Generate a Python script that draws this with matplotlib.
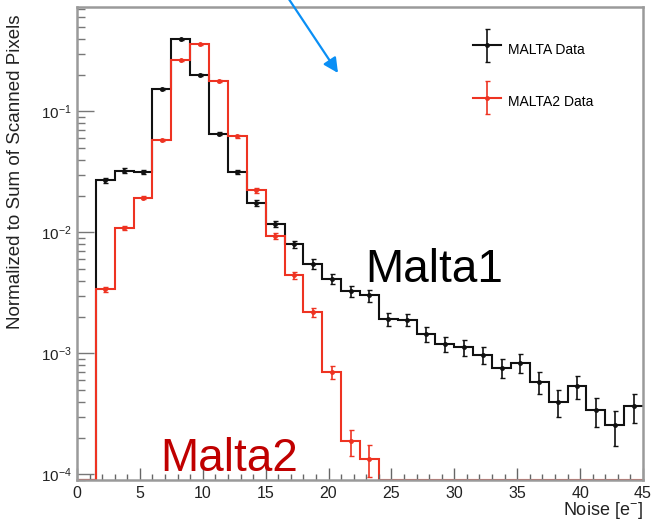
import numpy as np
import matplotlib
matplotlib.use("Agg")
import matplotlib.pyplot as plt
from matplotlib.lines import Line2D
from matplotlib.container import ErrorbarContainer
from matplotlib.legend_handler import HandlerErrorbar
from matplotlib.ticker import LogLocator, MultipleLocator

plt.rcParams['font.family'] = ['Liberation Sans', 'DejaVu Sans']
plt.rcParams['mathtext.default'] = 'regular'

# bin edges of the noise histogram [e-]
edges = np.arange(0, 45.01, 1.5)

# normalized counts per bin
malta1 = [0, 0.0269, 0.0325, 0.0315, 0.154, 0.394, 0.199, 0.0654, 0.0318, 0.0175,
          0.0118, 0.00796, 0.00551, 0.00414, 0.00327, 0.00302, 0.00193, 0.00190,
          0.00146, 0.00120, 0.00113, 0.00098, 0.000762, 0.000838, 0.000583,
          0.000396, 0.000537, 0.000338, 0.000255, 0.000366]
malta2 = [0, 0.00338, 0.01086, 0.0194, 0.058, 0.264, 0.358, 0.180, 0.0625, 0.0223,
          0.0094, 0.00444, 0.00219, 0.0007, 0.000188, 0.000135, 0, 0, 0, 0,
          0, 0, 0, 0, 0, 0, 0, 0, 0, 0]

# relative errors per bin
malta1_relerr = [0, .04, .04, .04, .02, .015, .02, .03, .04, .05, .06, .07, .09, .10,
                 .11, .11, .12, .12, .14, .15, .15, .16, .18, .17, .20, .25, .22, .27,
                 .32, .27]
malta2_relerr = [0, .05, .04, .03, .02, .015, .015, .02, .03, .05, .06, .07, .08, .12,
                 .25, .30, 0, 0, 0, 0, 0, 0, 0, 0, 0, 0, 0, 0, 0, 0]

ymin, ymax = 9e-5, 0.73
black = '#111111'
red = '#ee3322'
frame = '#9a9a9a'

fig = plt.figure(figsize=(6.54, 5.22), dpi=100)
ax = fig.add_axes([77/654, 1 - 480/522, (643 - 77)/654, (480 - 7)/522])

centers = 0.5 * (edges[1:] + edges[:-1])
handles = []
for vals, rel, col, lab in [(malta1, malta1_relerr, black, 'MALTA Data'),
                            (malta2, malta2_relerr, red, 'MALTA2 Data')]:
    v = np.array(vals)
    e = v * np.array(rel)
    ax.stairs(np.maximum(v, ymin), edges, baseline=None, color=col, lw=1.5)
    m = v > 0
    eb = ax.errorbar(centers[m], v[m], yerr=e[m], fmt='o', ms=2.5, color=col,
                     ecolor=col, elinewidth=1.2, capsize=1.8, capthick=1.0)
    handles.append((Line2D([], [], color=col, lw=1.5), eb))

ax.set_yscale('log')
ax.set_xlim(0, 45)
ax.set_ylim(ymin, ymax)

ax.xaxis.set_major_locator(MultipleLocator(5))
ax.xaxis.set_minor_locator(MultipleLocator(1))
ax.yaxis.set_major_locator(LogLocator(base=10))
ax.yaxis.set_minor_locator(LogLocator(base=10, subs=np.arange(2, 10)))

ax.tick_params(axis='x', which='major', direction='in', length=8.5, width=1,
               color='#666666', labelsize=11.5, labelcolor='#222222', pad=4)
ax.tick_params(axis='x', which='minor', direction='in', length=4.3, width=1,
               color='#666666')
ax.tick_params(axis='y', which='major', direction='in', length=12, width=1,
               color='#777777', labelsize=11, labelcolor='#222222', pad=4)
ax.tick_params(axis='y', which='minor', direction='in', length=6, width=1,
               color='#777777')
for s in ax.spines.values():
    s.set_color(frame)
    s.set_linewidth(1.8)

ax.set_xlabel('Noise [e$^{-}$]', loc='right', fontsize=13, color='#222222')
ax.xaxis.set_label_coords(1.0, -0.042)
ax.set_ylabel('Normalized to Sum of Scanned Pixels', loc='top', fontsize=13.5,
              color='#222222')
ax.yaxis.set_label_coords(-0.094, 0.985)

ax.legend(handles, ['MALTA Data', 'MALTA2 Data'], loc='upper left',
          bbox_to_anchor=(466/654, 1 - 30/522), bbox_transform=fig.transFigure,
          frameon=False, fontsize=10, handlelength=2.0, handleheight=2.4,
          handletextpad=0.5, labelspacing=1.95, borderpad=0,
          handler_map={ErrorbarContainer: HandlerErrorbar(xerr_size=0.5,
                                                          yerr_size=1.2)})

fig.text(365/654, 1 - 282/522, 'Malta1', fontsize=33, color='black',
         ha='left', va='baseline')
fig.text(160/654, 1 - 471/522, 'Malta2', fontsize=33, color='#c00000',
         ha='left', va='baseline')

ax.annotate('', xy=(338/654, 1 - 73/522), xycoords='figure fraction',
            xytext=(286/654, 1.01), textcoords='figure fraction',
            arrowprops=dict(arrowstyle='-|>', color='#0a8ff5', lw=1.6,
                            mutation_scale=22, shrinkA=0, shrinkB=0),
            annotation_clip=False)

fig.savefig('out.png', dpi=100)
